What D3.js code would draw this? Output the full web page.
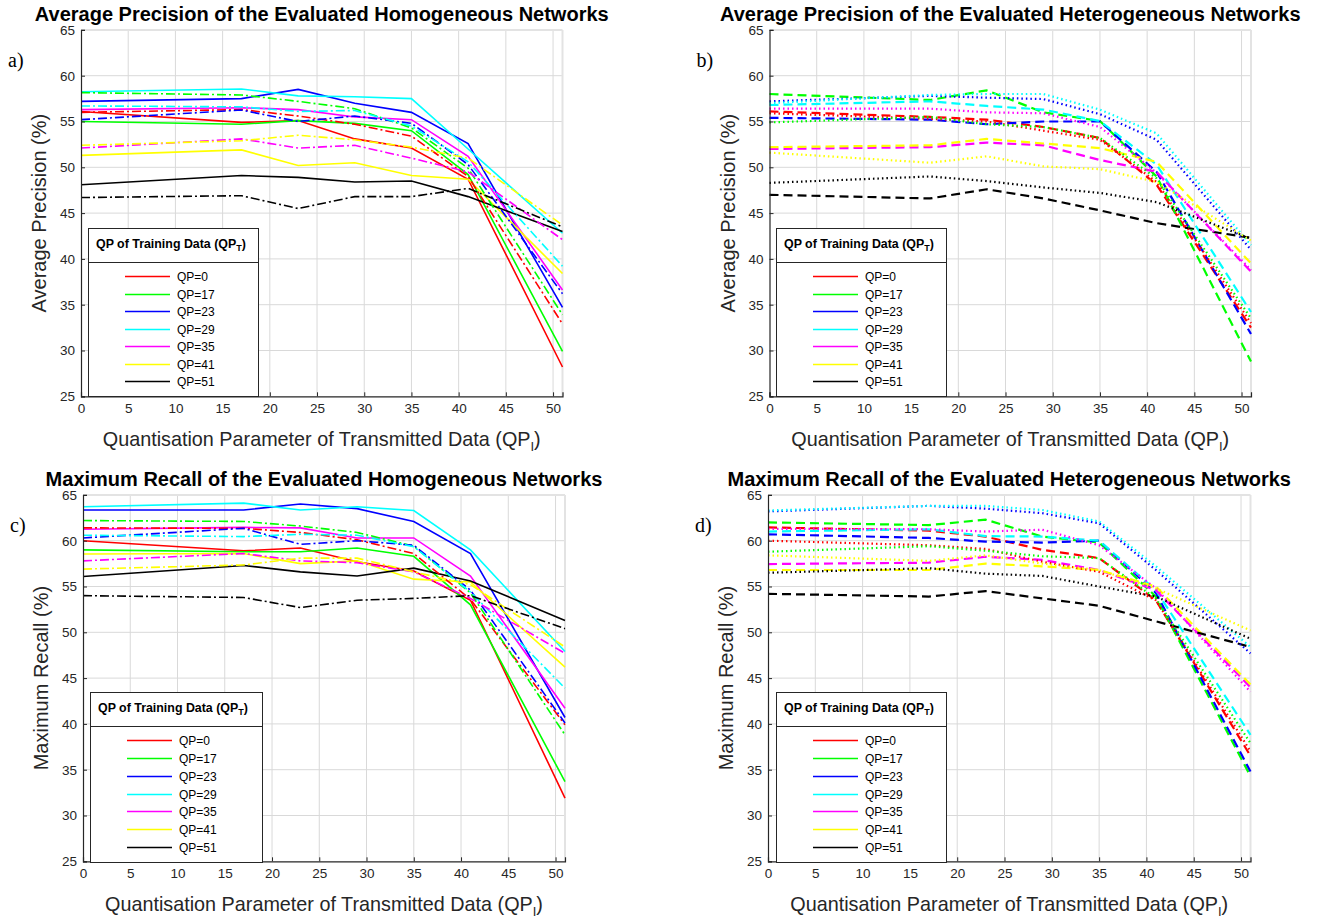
<!DOCTYPE html>
<html>
<head>
<meta charset="utf-8">
<script src="https://cdn.jsdelivr.net/npm/d3@7"></script>
<style>
  body { margin: 0; background: #fff; }
  text { font-family: "Liberation Sans", Arial, sans-serif; }
</style>
</head>
<body>
<svg id="chart" width="1330" height="923"></svg>
<script>
// QP of transmitted data (x positions of every series)
var qpI = [0, 17, 23, 29, 35, 41, 51];
var qpT = ['QP=0', 'QP=17', 'QP=23', 'QP=29', 'QP=35', 'QP=41', 'QP=51'];
var xTicks = [0, 5, 10, 15, 20, 25, 30, 35, 40, 45, 50];
var yTicks = [25, 30, 35, 40, 45, 50, 55, 60, 65];

// a) average precision, homogeneous networks
var homPrecSolid = [
  [56.1, 54.9, 55.1, 53.1, 52.1, 48.7, 28.2],
  [55.0, 54.7, 55.1, 54.8, 54.0, 49.2, 29.9],
  [57.2, 57.5, 58.5, 57.0, 56.0, 52.6, 34.7],
  [58.25, 58.55, 57.8, 57.7, 57.5, 52.0, 42.8],
  [56.3, 56.5, 56.3, 55.5, 55.2, 51.2, 36.6],
  [51.3, 51.9, 50.2, 50.5, 49.1, 48.7, 38.4],
  [48.1, 49.1, 48.9, 48.4, 48.5, 46.8, 43.0]
];
var homPrecDashDot = [
  [56.0, 56.3, 55.6, 54.7, 53.4, 49.0, 32.9],
  [58.15, 57.9, 57.2, 56.4, 54.3, 49.9, 33.9],
  [55.2, 56.25, 55.0, 55.6, 54.8, 50.3, 36.2],
  [56.7, 56.6, 56.1, 56.2, 54.5, 50.6, 39.2],
  [52.1, 53.1, 52.1, 52.4, 51.0, 49.5, 42.1],
  [52.4, 52.9, 53.5, 53.0, 52.2, 51.0, 43.7],
  [46.7, 46.9, 45.5, 46.8, 46.8, 47.7, 43.5]
];

// b) average precision, heterogeneous networks
var hetPrecDashed = [
  [56.1, 55.5, 55.2, 54.4, 53.2, 48.1, 32.5],
  [58.0, 57.35, 58.4, 56.0, 55.05, 49.0, 28.8],
  [55.4, 55.2, 54.7, 55.0, 55.0, 49.5, 31.8],
  [56.8, 57.2, 56.7, 56.3, 55.05, 50.3, 34.2],
  [52.0, 52.2, 52.7, 52.4, 50.8, 49.5, 38.6],
  [52.2, 52.4, 53.1, 52.6, 52.1, 50.6, 39.5],
  [47.0, 46.6, 47.6, 46.6, 45.3, 43.9, 42.3]
];
var hetPrecDotted = [
  [55.9, 55.3, 55.0, 54.0, 53.0, 48.4, 33.0],
  [54.9, 55.5, 54.7, 54.4, 53.2, 48.8, 33.5],
  [57.2, 57.8, 57.6, 57.45, 55.8, 53.0, 41.0],
  [57.0, 57.9, 58.0, 58.0, 56.3, 53.7, 41.5],
  [56.4, 56.4, 56.0, 55.9, 54.4, 49.4, 38.8],
  [51.6, 50.5, 51.2, 50.1, 49.8, 48.4, 42.0],
  [48.3, 49.0, 48.5, 47.8, 47.2, 46.2, 42.2]
];

// c) maximum recall, homogeneous networks
var homRecSolid = [
  [60.0, 58.9, 59.2, 57.7, 56.7, 53.5, 31.9],
  [59.0, 58.8, 58.8, 59.2, 58.3, 53.0, 33.7],
  [63.35, 63.35, 64.0, 63.5, 62.1, 58.6, 40.7],
  [63.7, 64.1, 63.35, 63.7, 63.3, 59.0, 47.9],
  [61.25, 61.45, 61.4, 60.3, 60.3, 56.15, 41.7],
  [58.55, 58.6, 57.5, 57.8, 55.8, 55.5, 46.2],
  [56.1, 57.3, 56.6, 56.15, 57.0, 55.6, 51.3]
];
var homRecDashDot = [
  [61.4, 61.35, 60.9, 60.1, 58.6, 53.6, 39.9],
  [62.2, 62.1, 61.6, 60.9, 59.4, 54.3, 38.8],
  [60.3, 61.35, 59.6, 60.0, 59.5, 54.6, 40.1],
  [60.6, 60.45, 60.7, 60.6, 59.35, 54.4, 43.9],
  [57.8, 58.6, 57.8, 57.6, 56.6, 53.7, 47.7],
  [56.9, 57.35, 58.1, 58.1, 56.6, 55.2, 48.4],
  [54.0, 53.8, 52.7, 53.5, 53.7, 54.0, 50.4]
];

// d) maximum recall, heterogeneous networks
var hetRecDashed = [
  [61.45, 61.1, 60.45, 59.0, 58.1, 53.5, 36.5],
  [62.0, 61.7, 62.3, 60.45, 59.8, 53.9, 34.3],
  [60.7, 60.3, 59.9, 59.8, 60.0, 54.3, 34.8],
  [61.0, 61.25, 60.5, 60.45, 60.0, 54.6, 38.8],
  [57.45, 57.6, 58.25, 57.9, 56.8, 54.6, 44.0],
  [56.8, 56.8, 57.5, 57.2, 56.8, 55.0, 44.3],
  [54.2, 53.9, 54.5, 53.7, 52.9, 51.2, 48.4]
];
var hetRecDotted = [
  [60.0, 59.5, 59.1, 57.7, 56.6, 53.5, 37.0],
  [58.8, 59.4, 58.9, 58.3, 58.1, 53.7, 37.9],
  [63.2, 63.8, 63.5, 63.0, 61.9, 56.8, 47.7],
  [63.3, 63.8, 63.8, 63.35, 62.1, 57.2, 48.4],
  [61.3, 61.25, 61.0, 61.2, 59.5, 54.8, 43.5],
  [58.4, 57.8, 58.4, 57.5, 56.8, 54.8, 50.2],
  [56.5, 57.0, 56.4, 56.15, 55.0, 53.9, 49.3]
];

var colors = ['#ff0000', '#00ff00', '#0000ff', '#00ffff', '#ff00ff', '#ffff00', '#000000'];
var dashes = { solid: null, dashdot: '9,3,2,3', dashed: '9,5', dotted: '1.5,3' };

var svg = d3.select('#chart');

var panels = [
  { tag: 'a)', title: 'Average Precision of the Evaluated Homogeneous Networks', ylabel: 'Average Precision (%)',
    box: [81, 29.9, 562.5, 396.3], series: [[homPrecSolid, 'solid'], [homPrecDashDot, 'dashdot']],
    legend: [88, 228, 258, 396] },
  { tag: 'b)', title: 'Average Precision of the Evaluated Heterogeneous Networks', ylabel: 'Average Precision (%)',
    box: [769.5, 29.9, 1251, 396.3], series: [[hetPrecDashed, 'dashed'], [hetPrecDotted, 'dotted']],
    legend: [776, 228, 946, 396] },
  { tag: 'c)', title: 'Maximum Recall of the Evaluated Homogeneous Networks', ylabel: 'Maximum Recall (%)',
    box: [83, 494.9, 565, 861.3], series: [[homRecSolid, 'solid'], [homRecDashDot, 'dashdot']],
    legend: [90, 692, 262, 862] },
  { tag: 'd)', title: 'Maximum Recall of the Evaluated Heterogeneous Networks', ylabel: 'Maximum Recall (%)',
    box: [768, 494.9, 1250.5, 861.3], series: [[hetRecDashed, 'dashed'], [hetRecDotted, 'dotted']],
    legend: [776, 692, 946, 862] }
];

panels.forEach(drawPanel);

function drawPanel(p) {
  var x0 = p.box[0], y0 = p.box[1], x1 = p.box[2], y1 = p.box[3];
  var xScale = d3.scaleLinear().domain([0, 51]).range([x0, x1]);
  var yScale = d3.scaleLinear().domain([25, 65]).range([y1, y0]);
  var g = svg.append('g');

  // grid
  g.append('g').selectAll('line.vx').data(xTicks.slice(1)).enter().append('line')
    .attr('x1', function (d) { return xScale(d); }).attr('x2', function (d) { return xScale(d); })
    .attr('y1', y0).attr('y2', y1).attr('stroke', '#d9d9d9').attr('stroke-width', 1);
  g.append('g').selectAll('line.hy').data(yTicks.slice(1, -1)).enter().append('line')
    .attr('x1', x0).attr('x2', x1)
    .attr('y1', function (d) { return yScale(d); }).attr('y2', function (d) { return yScale(d); })
    .attr('stroke', '#d9d9d9').attr('stroke-width', 1);
  // box top / right
  g.append('line').attr('x1', x0).attr('x2', x1).attr('y1', y0).attr('y2', y0).attr('stroke', '#e3e3e3').attr('stroke-width', 2);
  g.append('line').attr('x1', x1).attr('x2', x1).attr('y1', y0).attr('y2', y1).attr('stroke', '#e3e3e3').attr('stroke-width', 2);

  // series
  var lineFun = d3.line().x(function (d, i) { return xScale(qpI[i]); }).y(function (d) { return yScale(d); });
  p.series.forEach(function (s) {
    s[0].forEach(function (vals, k) {
      g.append('path').datum(vals).attr('d', lineFun).attr('fill', 'none')
        .attr('stroke', colors[k]).attr('stroke-width', s[1] === 'solid' || s[1] === 'dashdot' ? 1.6 : 2.2)
        .attr('stroke-dasharray', dashes[s[1]]);
    });
  });

  // axes
  var xAxis = g.append('g').attr('transform', 'translate(0,' + y1 + ')')
    .call(d3.axisBottom(xScale).tickValues(xTicks).tickSize(-4).tickPadding(7));
  var yAxis = g.append('g').attr('transform', 'translate(' + x0 + ',0)')
    .call(d3.axisLeft(yScale).tickValues(yTicks).tickSize(-4).tickPadding(6));
  [xAxis, yAxis].forEach(function (a) {
    a.select('.domain').attr('stroke', '#262626').attr('stroke-width', 1.2);
    a.selectAll('.tick line').attr('stroke', '#262626');
    a.selectAll('.tick text').attr('fill', '#262626').style('font-size', '13.5px')
      .style('font-family', '"Liberation Sans", Arial, sans-serif');
  });

  // labels
  var cx = (x0 + x1) / 2;
  svg.append('text').attr('x', cx).attr('y', y0 - 9).attr('text-anchor', 'middle')
    .style('font-size', '20px').style('font-weight', 'bold').attr('fill', '#000').text(p.title);
  var xl = svg.append('text').attr('x', cx).attr('y', y1 + 50).attr('text-anchor', 'middle')
    .style('font-size', '19.8px').attr('fill', '#262626');
  xl.append('tspan').text('Quantisation Parameter of Transmitted Data (QP');
  xl.append('tspan').attr('dy', 5).style('font-size', '13px').text('I');
  xl.append('tspan').attr('dy', -5).text(')');
  svg.append('text').attr('transform', 'translate(' + (x0 - 35) + ',' + ((y0 + y1) / 2) + ') rotate(-90)')
    .attr('text-anchor', 'middle').style('font-size', '20px').attr('fill', '#262626').text(p.ylabel);
  svg.append('text').attr('x', x0 - 73).attr('y', y0 + 37)
    .style('font-family', '"Liberation Serif", "Times New Roman", serif').style('font-size', '20px').attr('fill', '#000').text(p.tag);

  // legend
  var L = p.legend;
  var lg = svg.append('g');
  lg.append('rect').attr('x', L[0] + 0.5).attr('y', L[1] + 0.5).attr('width', L[2] - L[0]).attr('height', L[3] - L[1])
    .attr('fill', '#fff').attr('stroke', '#262626').attr('stroke-width', 1);
  lg.append('line').attr('x1', L[0]).attr('x2', L[2]).attr('y1', L[1] + 34.5).attr('y2', L[1] + 34.5)
    .attr('stroke', '#262626').attr('stroke-width', 1);
  var lt = lg.append('text').attr('x', L[0] + 8).attr('y', L[1] + 20)
    .style('font-size', '12.4px').style('font-weight', 'bold').attr('fill', '#000');
  lt.append('tspan').text('QP of Training Data (QP');
  lt.append('tspan').attr('dy', 3).style('font-size', '9px').text('T');
  lt.append('tspan').attr('dy', -3).text(')');
  var step = (L[3] - L[1] - 48 - 15) / 6;
  qpT.forEach(function (name, k) {
    var yy = Math.round(L[1] + 48 + k * step) + 0.5;
    lg.append('line').attr('x1', L[0] + 37).attr('x2', L[0] + 82).attr('y1', yy).attr('y2', yy)
      .attr('stroke', colors[k]).attr('stroke-width', 1.3);
    lg.append('text').attr('x', L[0] + 89).attr('y', yy + 4).style('font-size', '12px')
      .attr('fill', '#000').text(name);
  });
}
</script>
</body>
</html>
